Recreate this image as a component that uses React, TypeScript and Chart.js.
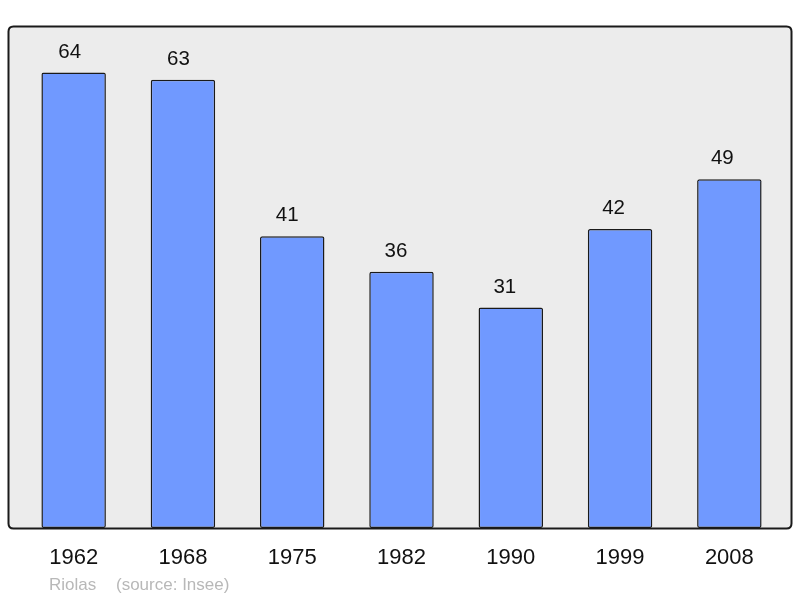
import React, { useEffect, useRef } from "react";
import { Chart, registerables } from "chart.js";

Chart.register(...registerables);

const years = ["1962", "1968", "1975", "1982", "1990", "1999", "2008"];
const population = [64, 63, 41, 36, 31, 42, 49];
const sourceLabel = "Riolas";
const sourceNote = "(source: Insee)";
const yMax = 70.4;

const FONT = "'Liberation Sans', Arial, sans-serif";

const framePlugin = {
  id: "frame",
  beforeDraw(chart: any) {
    const { ctx, chartArea } = chart;
    const l = chartArea.left - 10.5;
    const r = chartArea.right + 7.5;
    const t = chartArea.top - 0.5;
    const b = chartArea.bottom + 0.5;
    const rad = 5;
    ctx.save();
    ctx.beginPath();
    ctx.moveTo(l + rad, t);
    ctx.lineTo(r - rad, t);
    ctx.quadraticCurveTo(r, t, r, t + rad);
    ctx.lineTo(r, b - rad);
    ctx.quadraticCurveTo(r, b, r - rad, b);
    ctx.lineTo(l + rad, b);
    ctx.quadraticCurveTo(l, b, l, b - rad);
    ctx.lineTo(l, t + rad);
    ctx.quadraticCurveTo(l, t, l + rad, t);
    ctx.closePath();
    ctx.fillStyle = "#ececec";
    ctx.fill();
    ctx.lineWidth = 2;
    ctx.strokeStyle = "#1a1a1a";
    ctx.stroke();
    ctx.restore();
  },
  afterDatasetsDraw(chart: any) {
    const { ctx } = chart;
    const meta = chart.getDatasetMeta(0);
    ctx.save();
    ctx.fillStyle = "#111";
    ctx.font = `20.5px ${FONT}`;
    ctx.textAlign = "center";
    ctx.textBaseline = "middle";
    meta.data.forEach((bar: any, i: number) => {
      ctx.fillText(String(population[i]), bar.x - 4 - 0.5 * i, bar.y - 20.5);
    });
    ctx.fillStyle = "#b8b8b8";
    ctx.font = `17px ${FONT}`;
    ctx.textAlign = "left";
    ctx.fillText(sourceLabel, 49, 585);
    ctx.fillText(sourceNote, 116, 585);
    ctx.restore();
  },
};

export default function App() {
  const ref = useRef<HTMLCanvasElement>(null);
  useEffect(() => {
    if (!ref.current) return;
    const chart = new Chart(ref.current, {
      type: "bar",
      data: {
        labels: years,
        datasets: [
          {
            data: population,
            backgroundColor: "#7099ff",
            borderColor: "#1a1a1a",
            borderWidth: 1.5,
            borderRadius: 2,
            borderSkipped: false,
            barPercentage: 0.59,
            categoryPercentage: 1,
          },
        ],
      },
      options: {
        responsive: false,
        animation: false,
        layout: { padding: { left: 19, right: 16, top: 27, bottom: 0 } },
        plugins: { legend: { display: false }, tooltip: { enabled: false } },
        scales: {
          x: {
            grid: { display: false, drawTicks: false },
            border: { display: false },
            ticks: { color: "#111", font: { family: FONT, size: 22 }, padding: 16.5 },
            afterFit: (scale: any) => {
              scale.height = 70;
            },
          },
          y: { display: false, min: 0, max: yMax },
        },
      },
      plugins: [framePlugin],
    });
    return () => chart.destroy();
  }, []);
  return (
    <div style={{ position: "absolute", left: 0, top: 0, width: 800, height: 598, background: "#fff" }}>
      <canvas ref={ref} width={800} height={598} />
    </div>
  );
}
